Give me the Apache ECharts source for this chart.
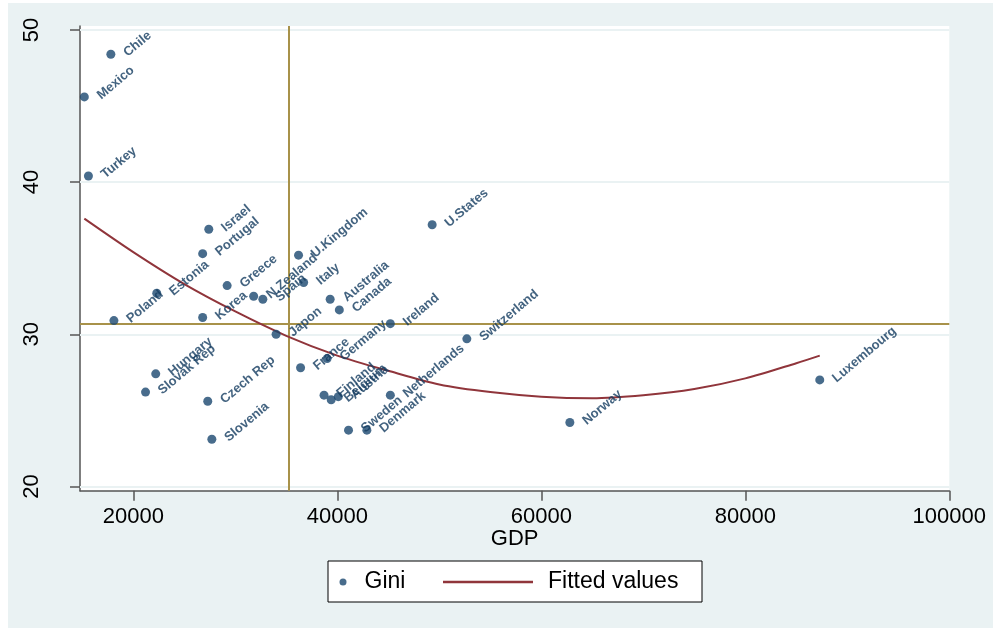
<!DOCTYPE html>
<html>
<head>
<meta charset="utf-8">
<script src="https://cdn.jsdelivr.net/npm/echarts@6/dist/echarts.min.js"></script>
<style>
  html, body { margin: 0; padding: 0; background: #ffffff; width: 993px; height: 630px; overflow: hidden; }
  #chart { position: absolute; left: 8px; top: 3px; width: 985px; height: 625px; }
</style>
</head>
<body>
<div id="chart"></div>
<script>
const countries = ['Chile','Mexico','Turkey','Israel','Portugal','Greece','Estonia','Poland','Korea','N.Zealand','Spain','U.Kingdom','Italy','Australia','Canada','U.States','Ireland','Japon','Hungary','Slovak Rep','Czech Rep','Slovenia','France','Germany','Finland','Belgium','Austria','Switzerland','Netherlands','Sweden','Denmark','Norway','Luxembourg'];
const gdp = [17800,15200,15600,27400,26800,29200,22300,18100,26800,31800,32700,36200,36700,39300,40200,49300,45200,34000,22200,21200,27300,27700,36400,39000,38700,39400,40100,52700,45200,41100,42900,62800,87300];
const gini = [48.4,45.6,40.4,36.9,35.3,33.2,32.7,30.9,31.1,32.5,32.3,35.2,33.4,32.3,31.6,37.2,30.7,30.0,27.4,26.2,25.6,23.1,27.8,28.4,26.0,25.7,25.9,29.7,26.0,23.7,23.7,24.2,27.0];

const fitGDP = [15200,20000,25000,30000,35000,40000,45000,50000,55000,60000,65000,70000,75000,80000,85000,87300];
const fitGini = [37.6,35.4,33.3,31.5,29.9,28.6,27.6,26.7,26.2,25.9,25.8,26.0,26.4,27.1,28.1,28.6];

const meanGDP = 35200;
const meanGini = 30.66;

const xTicks = [20000,40000,60000,80000,100000];
const yTicks = [20,30,40,50];

const NAVY = '#1A476F', MAROON = '#90353B', GOLD = '#A8924A', BG = '#EAF2F3', AXIS = '#555555';

const chart = echarts.init(document.getElementById('chart'));
chart.setOption({
  backgroundColor: BG,
  animation: false,
  textStyle: { fontFamily: 'Arial, "Liberation Sans", sans-serif' },
  grid: { left: 72, top: 23, right: 43.7, bottom: 137.3, show: true, backgroundColor: '#ffffff', borderWidth: 0,
          containLabel: false, outerBoundsMode: 'none' },
  xAxis: {
    type: 'value', min: 14775, max: 100000,
    name: 'GDP', nameLocation: 'middle', nameGap: 37, nameMoveOverlap: false,
    nameTextStyle: { fontSize: 22, color: '#000' },
    axisLine: { show: true, onZero: false, lineStyle: { color: AXIS, width: 1.5 } },
    axisTick: { show: true, length: 10, customValues: xTicks, lineStyle: { color: AXIS, width: 1.5 } },
    axisLabel: { customValues: xTicks, fontSize: 22, color: '#000', margin: 15, formatter: v => String(v) },
    splitLine: { show: false }
  },
  yAxis: {
    type: 'value', min: 19.72, max: 50.26,
    axisLine: { show: true, onZero: false, lineStyle: { color: AXIS, width: 1.5 } },
    axisTick: { show: true, length: 10, customValues: yTicks, lineStyle: { color: AXIS, width: 1.5 } },
    axisLabel: { customValues: yTicks, fontSize: 22, color: '#000', rotate: 90, margin: 37, formatter: v => String(v) },
    splitLine: { show: false }
  },
  legend: [
    { data: ['Gini'], left: 331.5, top: 567, padding: 0, icon: 'circle', itemWidth: 7, itemHeight: 7,
      textStyle: { fontSize: 23, color: '#000', lineHeight: 24, padding: [0,0,0,13] }, selectedMode: false },
    { data: ['Fitted values'], left: 435, top: 567, padding: 0, icon: 'rect', itemWidth: 90, itemHeight: 2.5,
      textStyle: { fontSize: 23, color: '#000', lineHeight: 24, padding: [0,0,0,10] }, selectedMode: false }
  ],
  graphic: [
    { type: 'rect', z: -1, shape: { x: 320, y: 558, width: 374, height: 41 },
      style: { fill: '#ffffff', stroke: '#000000', lineWidth: 1 } }
  ],
  series: [
    {
      name: 'grid', type: 'line', data: [], z: 1, silent: true,
      markLine: { z: 1, silent: true, symbol: 'none', label: { show: false },
        lineStyle: { color: BG, width: 2, type: 'solid' },
        data: yTicks.map(v => ({ yAxis: v })) }
    },
    {
      name: 'means', type: 'line', data: [], z: 2, silent: true,
      markLine: { z: 2, silent: true, symbol: 'none', label: { show: false },
        lineStyle: { color: GOLD, width: 2, type: 'solid' },
        data: [{ xAxis: meanGDP }, { yAxis: meanGini }] }
    },
    {
      name: 'Fitted values', type: 'line', z: 3, showSymbol: false, smooth: 0.3,
      lineStyle: { color: MAROON, width: 2 }, itemStyle: { color: MAROON },
      data: fitGDP.map((x, i) => [x, fitGini[i]])
    },
    {
      name: 'Gini', type: 'scatter', z: 4, symbolSize: 9,
      itemStyle: { color: NAVY },
      label: { show: true, position: 'right', distance: 10, rotate: 40, formatter: '{b}',
        color: '#143C60', fontSize: 13, fontWeight: 'bold' },
      labelLayout: { hideOverlap: false },
      data: countries.map((c, i) => ({ name: c, value: [gdp[i], gini[i]] }))
    }
  ]
});
</script>
</body>
</html>
